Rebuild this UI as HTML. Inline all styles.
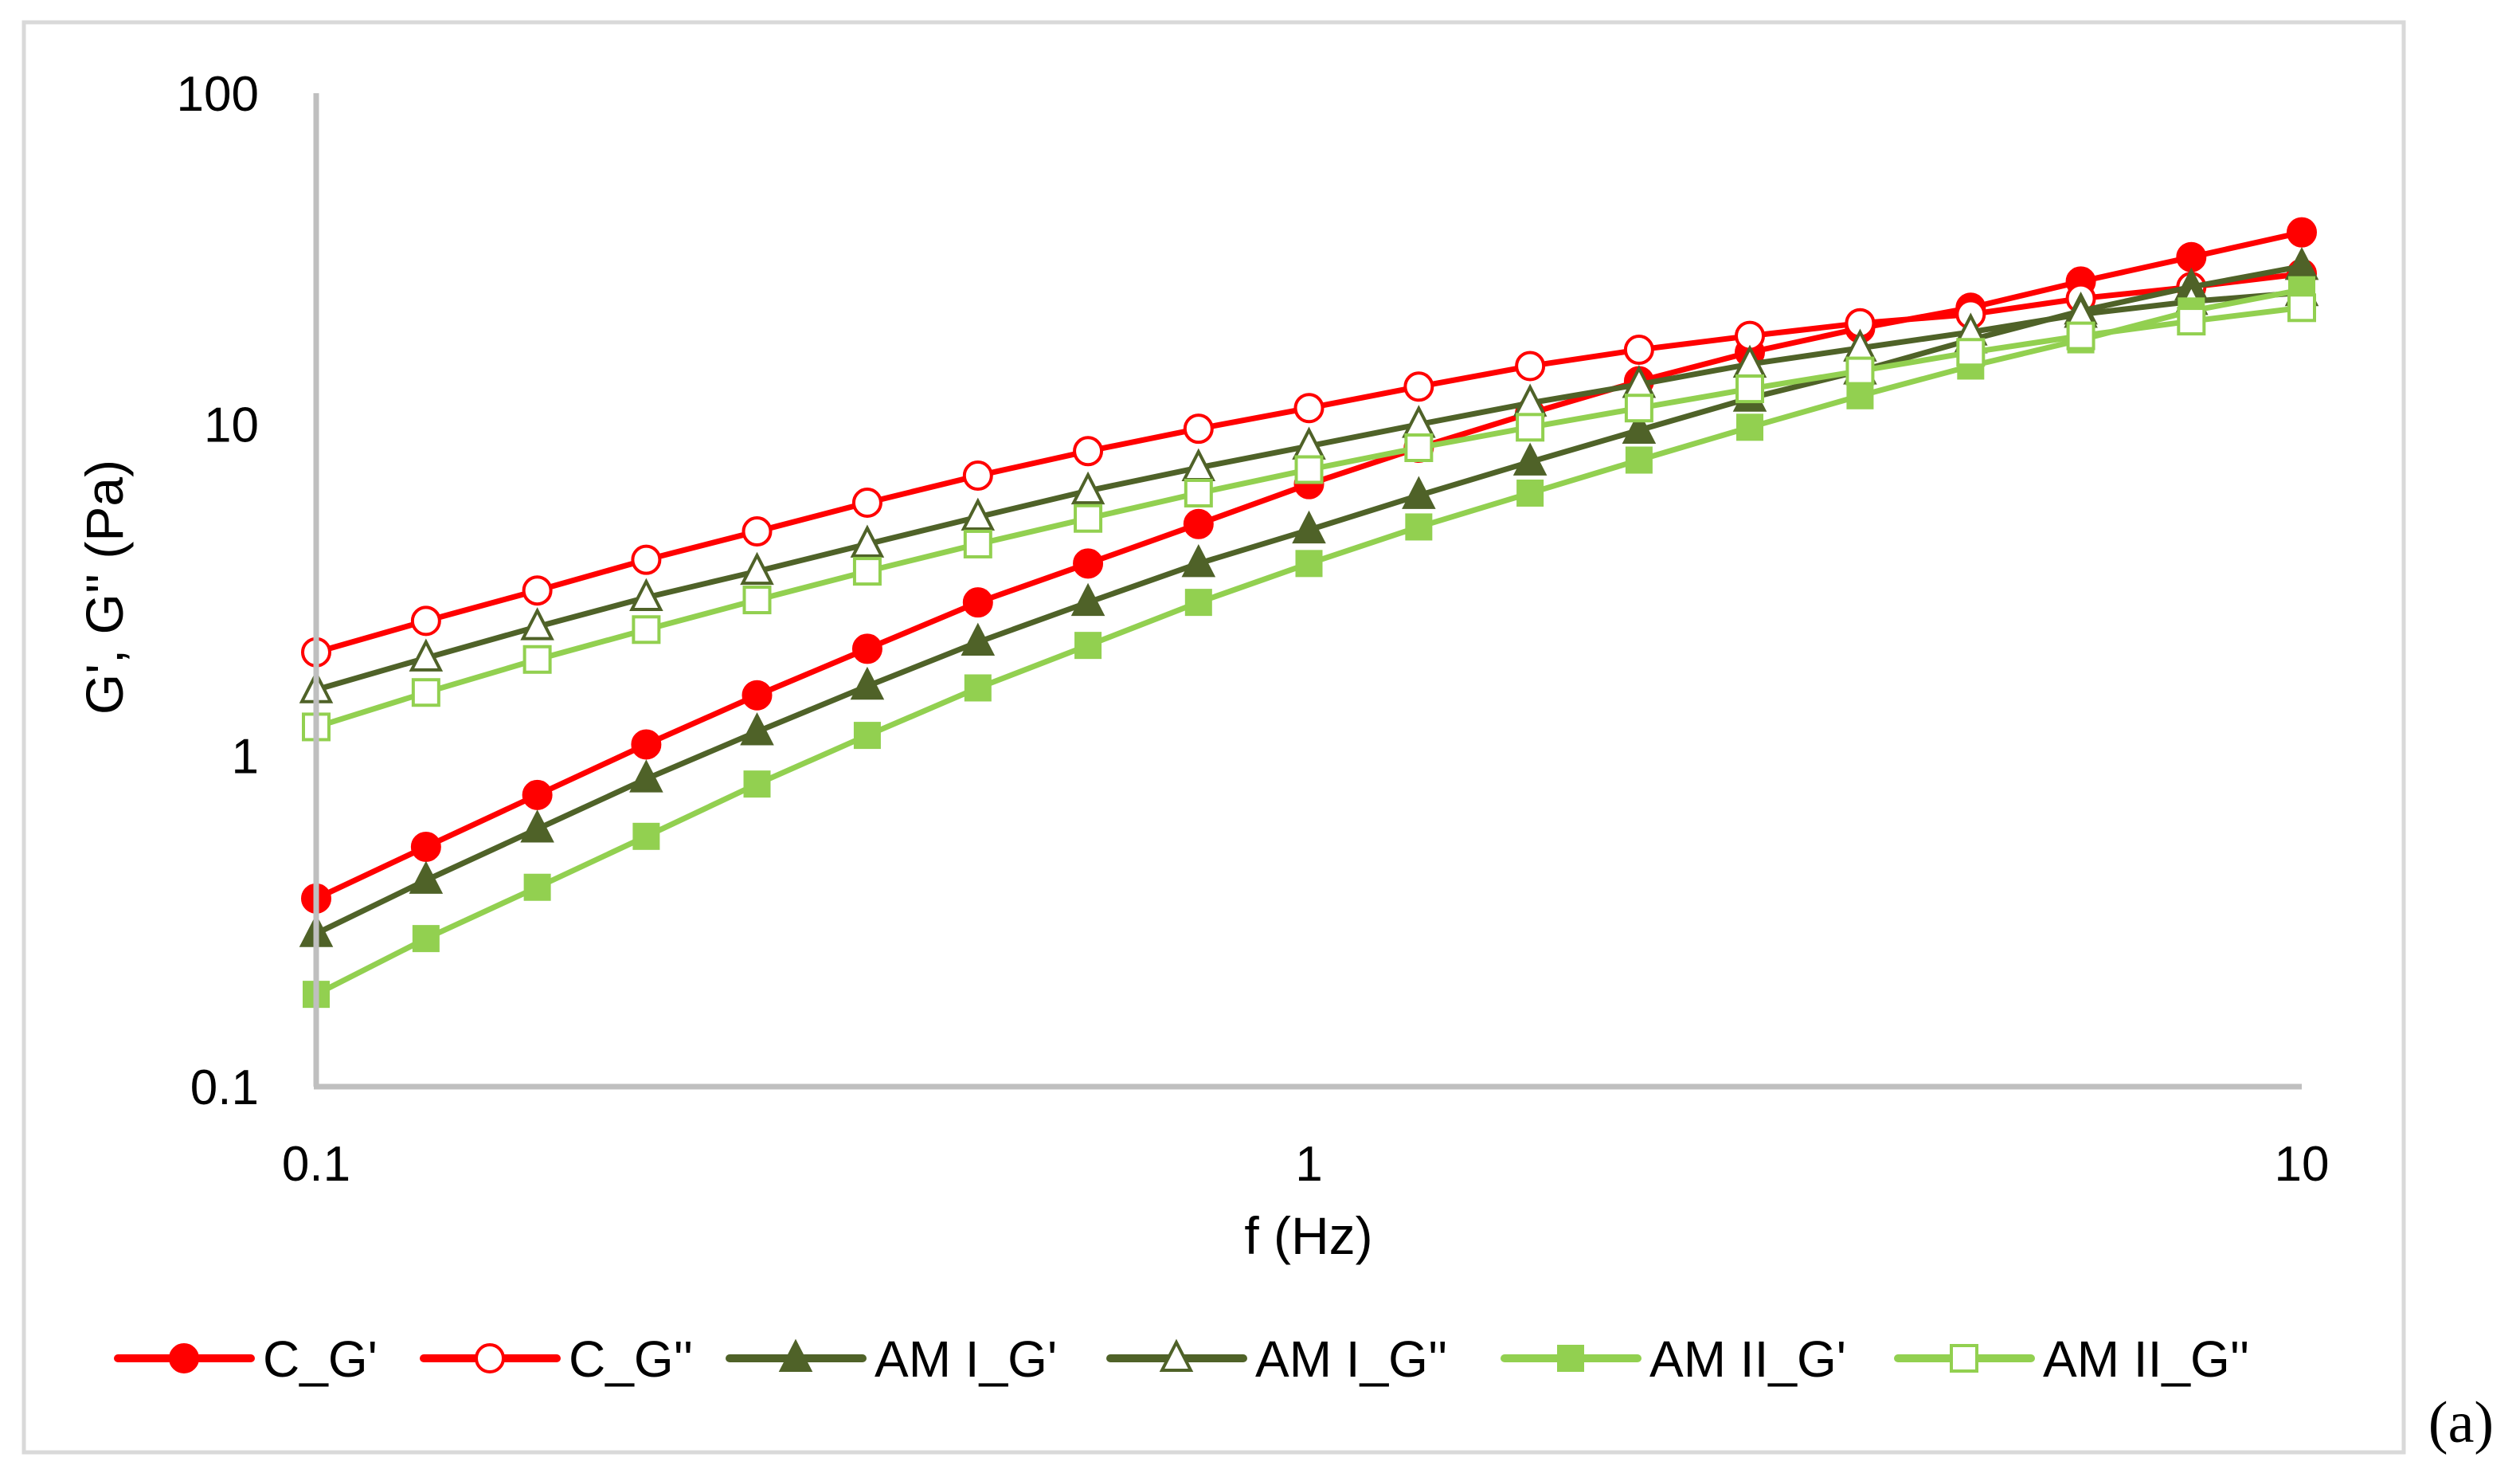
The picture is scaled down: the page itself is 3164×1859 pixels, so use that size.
<!DOCTYPE html>
<html><head><meta charset="utf-8"><style>
html,body{margin:0;padding:0;background:#fff;}
svg{display:block;font-family:"Liberation Sans",sans-serif;}
</style></head><body>
<svg id="chart" width="3164" height="1859" viewBox="0 0 3164 1859" xmlns="http://www.w3.org/2000/svg">
<rect x="30" y="28" width="2988" height="1795" fill="none" stroke="#d9d9d9" stroke-width="5"/>
<g id="plot"></g>
<g id="axes"></g>
<text x="1643" y="1574" font-size="66" text-anchor="middle">f (Hz)</text>
<text transform="translate(154,737) rotate(-90)" font-size="66" text-anchor="middle">G', G'' (Pa)</text>
<g id="legend"></g>
<text x="3090" y="1810" font-size="74" font-family="Liberation Serif, serif" text-anchor="middle">(a)</text>
</svg>
<script>
const freqs = [0.1,0.129,0.167,0.215,0.278,0.359,0.464,0.599,0.774,1,1.29,1.67,2.15,2.78,3.59,4.64,5.99,7.74,10];
const cGp  = [0.37,0.53,0.76,1.08,1.52,2.1,2.9,3.8,5.0,6.6,8.5,10.8,13.5,16.5,19.5,22.5,27,32,38];
const cGpp = [2.05,2.55,3.15,3.9,4.75,5.8,7.0,8.3,9.7,11.2,13,15,16.8,18.5,20.2,21.5,24,26,28.5];
const am1Gp  = [0.29,0.42,0.6,0.85,1.18,1.62,2.2,2.9,3.8,4.8,6.1,7.7,9.6,12,14.5,18,22,26,30];
const am1Gpp = [1.58,1.97,2.45,3.0,3.6,4.35,5.25,6.3,7.4,8.6,10,11.6,13.2,15.2,17,19,21.5,23.5,25];
const am2Gp  = [0.19,0.28,0.4,0.57,0.82,1.15,1.6,2.15,2.9,3.8,4.9,6.2,7.8,9.8,12.2,15,18,22,25.5];
const am2Gpp = [1.22,1.55,1.95,2.4,2.95,3.6,4.35,5.2,6.2,7.3,8.5,9.8,11.2,12.8,14.5,16.5,18.5,20.5,22.5];
const xTicks = [0.1,1,10];
const yTicks = [0.1,1,10,100];
const seriesNames = ["C_G'","C_G''","AM I_G'","AM I_G''","AM II_G'","AM II_G''"];

const NS="http://www.w3.org/2000/svg";
const X0=397,X1=2890,Y0=1364,Y1=117;
function xs(v){return X0+(Math.log10(v)+1)/2*(X1-X0);}
function ys(v){return Y0-(Math.log10(v)+1)/3*(Y0-Y1);}
function mk(tag,attrs,parent){const e=document.createElementNS(NS,tag);for(const k in attrs)e.setAttribute(k,attrs[k]);parent.appendChild(e);return e;}

const axes=document.getElementById('axes');
let a=mk('line',{x1:X0,y1:Y1,x2:X0,y2:Y0,stroke:'#bfbfbf','stroke-width':7},axes);


a=mk('line',{x1:X0-3,y1:Y0,x2:X1,y2:Y0,stroke:'#bfbfbf','stroke-width':7},axes);


xTicks.forEach(t=>{const e=mk('text',{x:xs(t),y:1482,'font-size':62,'text-anchor':'middle'},axes);e.textContent=t;

});
yTicks.forEach(t=>{const e=mk('text',{x:325,y:ys(t)+22,'font-size':62,'text-anchor':'end'},axes);e.textContent=t;

});

const series=[
 {d:cGp,c:'#ff0000',m:'circle',f:true},
 {d:cGpp,c:'#ff0000',m:'circle',f:false},
 {d:am1Gp,c:'#4f6228',m:'tri',f:true},
 {d:am1Gpp,c:'#4f6228',m:'tri',f:false},
 {d:am2Gp,c:'#92d050',m:'sq',f:true},
 {d:am2Gpp,c:'#92d050',m:'sq',f:false}
];
function marker(p,s,x,y){
 const fill=s.f?s.c:'#fff';let e;
 if(s.m==='circle')e=mk('circle',{cx:x,cy:y,r:17,fill:fill,stroke:s.c,'stroke-width':4},p);
 else if(s.m==='tri')e=mk('polygon',{points:`${x},${y-20} ${x+18},${y+15} ${x-18},${y+15}`,fill:fill,stroke:s.c,'stroke-width':4},p);
 else e=mk('rect',{x:x-16,y:y-16,width:32,height:32,fill:fill,stroke:s.c,'stroke-width':s.f?2:4},p);
 return e;
}
const plot=document.getElementById('plot');
series.forEach((s,i)=>{
 const g=mk('g',{},plot);
 
 
 const pts=freqs.map((f,j)=>xs(f)+','+ys(s.d[j])).join(' ');
 const l=mk('polyline',{points:pts,fill:'none',stroke:s.c,'stroke-width':7,'stroke-linejoin':'round'},g);
 
 
 freqs.forEach((f,j)=>{const m=marker(g,s,xs(f),ys(s.d[j]));
  
  });
});
const legend=document.getElementById('legend');
const lx=[148,532,916,1394,1889,2383];
series.forEach((s,i)=>{
 const g=mk('g',{},legend);
 
 
 const x=lx[i],y=1705;
 mk('line',{x1:x,y1:y,x2:x+167,y2:y,stroke:s.c,'stroke-width':10,'stroke-linecap':'round'},g);
 marker(g,s,x+83,y);
 const t=mk('text',{x:x+182,y:y+23,'font-size':64},g);t.textContent=seriesNames[i];
});
</script>
</body></html>
